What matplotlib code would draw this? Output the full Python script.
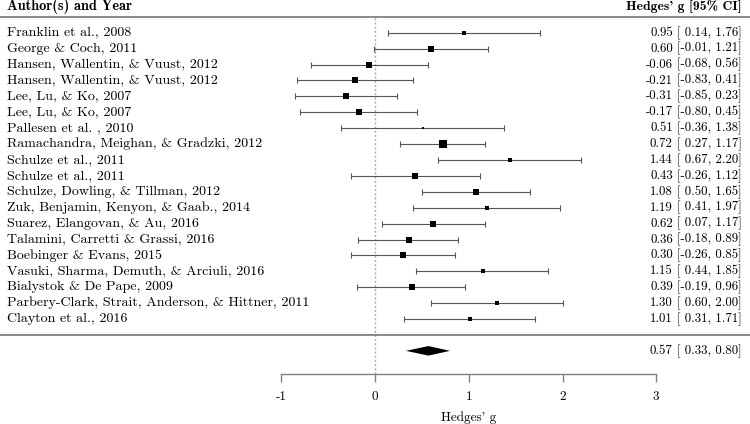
import numpy as np
import matplotlib
matplotlib.use("Agg")
import matplotlib.pyplot as plt

plt.rcParams['font.family'] = ['cmr10', 'DejaVu Serif']
plt.rcParams['axes.unicode_minus'] = False
plt.rcParams['mathtext.fontset'] = 'cm'

studies = [
    "Franklin et al., 2008",
    "George & Coch, 2011",
    "Hansen, Wallentin, & Vuust, 2012",
    "Hansen, Wallentin, & Vuust, 2012",
    "Lee, Lu, & Ko, 2007",
    "Lee, Lu, & Ko, 2007",
    "Pallesen et al. , 2010",
    "Ramachandra, Meighan, & Gradzki, 2012",
    "Schulze et al., 2011",
    "Schulze et al., 2011",
    "Schulze, Dowling, & Tillman, 2012",
    "Zuk, Benjamin, Kenyon, & Gaab., 2014",
    "Suarez, Elangovan, & Au, 2016",
    "Talamini, Carretti & Grassi, 2016",
    "Boebinger & Evans, 2015",
    "Vasuki, Sharma, Demuth, & Arciuli, 2016",
    "Bialystok & De Pape, 2009",
    "Parbery-Clark, Strait, Anderson, & Hittner, 2011",
    "Clayton et al., 2016",
]
g = [0.95, 0.60, -0.06, -0.21, -0.31, -0.17, 0.51, 0.72, 1.44, 0.43,
     1.08, 1.19, 0.62, 0.36, 0.30, 1.15, 0.39, 1.30, 1.01]
ci_low = [0.14, -0.01, -0.68, -0.83, -0.85, -0.80, -0.36, 0.27, 0.67, -0.26,
          0.50, 0.41, 0.07, -0.18, -0.26, 0.44, -0.19, 0.60, 0.31]
ci_high = [1.76, 1.21, 0.56, 0.41, 0.23, 0.45, 1.38, 1.17, 2.20, 1.12,
           1.65, 1.97, 1.17, 0.89, 0.85, 1.85, 0.96, 2.00, 1.71]
# relative study weights
weights = [3, 6, 5, 5.5, 6.5, 5, 2.5, 7.5, 3, 5, 6, 3, 6.5, 6.5, 6.5, 4, 6.5, 4.5, 4.5]
summary = (0.57, 0.33, 0.80)

ticks = [-1, 0, 1, 2, 3]

k = len(studies)
rows = np.arange(k, 0, -1)

fig = plt.figure(figsize=(7.5, 4.24), dpi=100)
ax = fig.add_axes([0, 0, 1, 1])
ax.set_xlim(-4, 4)
ax.set_ylim(-5.6, 21.06)

px = 8 / 750  # data units per pixel in x

# reference line at zero
ax.plot([0, 0], [-2.46, 20], color='#aaaaaa', lw=1, ls=(0, (1.5, 1.5)), zorder=1)

# header and separator lines
ax.axhline(20, color='#808080', lw=1.3)
ax.axhline(0, color='#808080', lw=1.3)

for y, est, lo, hi, w in zip(rows, g, ci_low, ci_high, weights):
    ax.errorbar(est, y, xerr=[[est - lo], [hi - est]], fmt='none',
                ecolor='#555555', elinewidth=0.8, capsize=2.5, capthick=0.8, zorder=2)
    ax.plot(est, y, marker='s', ms=w * 0.75, color='black', mec='black', mew=0, zorder=3)

# summary diamond
s_est, s_lo, s_hi = summary
ax.fill([s_lo, s_est, s_hi, s_est], [-1, -0.7, -1, -1.3], color='black', lw=0, zorder=3)

fs_left = 10.1
fs_right = 9.3
left_x = -4 + 7 * px
right_x = -4 + 742 * px

# width of the CI column, measured once so the estimates line up left of it
renderer = fig.canvas.get_renderer()
probe = ax.text(0, 0, "[-0.68, 0.56]", fontsize=fs_right)
ci_w = probe.get_window_extent(renderer).width
probe.remove()
est_x = right_x - (ci_w + 4.5) * px

def annot(y, est, lo, hi):
    ax.text(est_x, y, f"{est:.2f}", ha='right', va='center', fontsize=fs_right)
    ax.text(right_x, y, f"[{lo:5.2f}, {hi:.2f}]", ha='right', va='center',
            fontsize=fs_right)

for y, name, est, lo, hi in zip(rows, studies, g, ci_low, ci_high):
    ax.text(left_x, y, name, ha='left', va='center', fontsize=fs_left)
    annot(y, est, lo, hi)
annot(-1, s_est, s_lo, s_hi)

bold = ['cmb10', 'DejaVu Serif']
ax.text(left_x, 20.65, "Author(s) and Year", ha='left', va='center',
        fontsize=10.3, fontfamily=bold, fontweight='bold')
ax.text(right_x, 20.65, "Hedges' g [95% CI]", ha='right', va='center',
        fontsize=9.8, fontfamily=bold, fontweight='bold')

# x axis
for s in ['top', 'left', 'right']:
    ax.spines[s].set_visible(False)
ax.spines['bottom'].set_position(('data', -2.46))
ax.spines['bottom'].set_bounds(-1, 3)
ax.spines['bottom'].set_color('#808080')
ax.spines['bottom'].set_linewidth(1.0)
ax.set_xticks(ticks)
ax.set_xticklabels([str(t) for t in ticks])
ax.tick_params(axis='x', direction='out', length=6, width=1.0, color='#808080',
               labelsize=9.5, pad=6)
ax.set_yticks([])
ax.text(1, -5.23, "Hedges' g", ha='center', va='center', fontsize=9.5)

fig.savefig("out.png", dpi=100)
